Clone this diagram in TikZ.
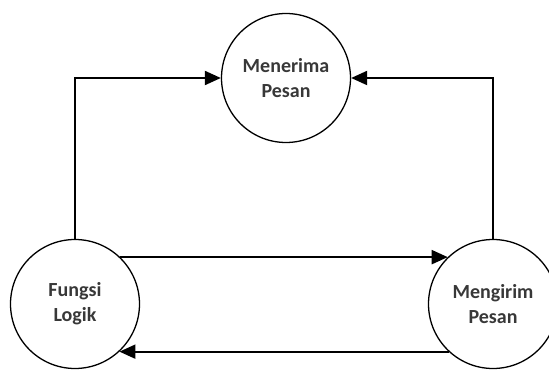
\documentclass[tikz,border=0pt]{standalone}
\usepackage{fontspec}
\setmainfont{Carlito}
\usetikzlibrary{arrows.meta}

\begin{document}
\begin{tikzpicture}[x=1pt,y=1pt,
  proses/.style={circle, draw, line width=1.3pt, minimum size=129pt, inner sep=0pt,
    align=center, text=black!78, font=\fontsize{20}{25}\selectfont\bfseries},
  alir/.style={line width=2pt, -{Triangle[length=16pt,width=14pt]}}]

\useasboundingbox (0,0) rectangle (549,370);

% the three processes
\node [proses] (terima) at (286,292) {Menerima\\Pesan};
\node [proses] (logik)  at (75,66)   {Fungsi\\Logik};
\node [proses] (kirim)  at (493,66)  {Mengirim\\Pesan};

% up to Menerima Pesan
\draw [alir] (logik.north) |- (terima.west);
\draw [alir] (kirim.north) |- (terima.east);

% between Fungsi Logik and Mengirim Pesan
\draw [alir] (logik.46) -- (kirim.134);
\draw [alir] (kirim.-133) -- (logik.-47);

\end{tikzpicture}
\end{document}
